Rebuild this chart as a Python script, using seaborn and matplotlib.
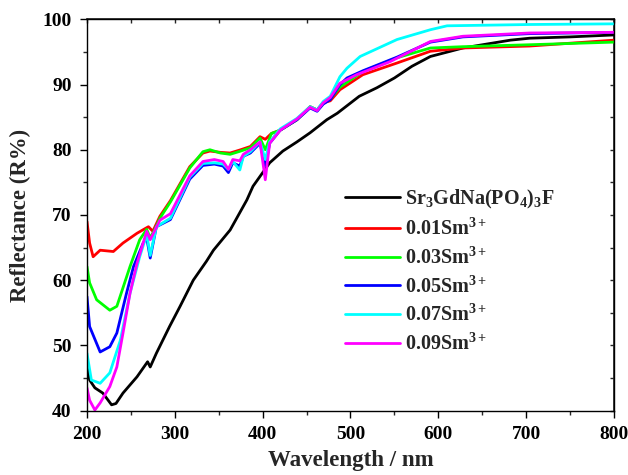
import matplotlib
matplotlib.use("Agg")
import matplotlib.pyplot as plt
import seaborn as sns
import pandas as pd
from matplotlib.ticker import MultipleLocator

# ---------------- data ----------------
wl_host = [200, 203, 209, 218, 228, 233, 241, 257, 269, 272, 279, 294, 306, 321, 336, 344, 363, 382, 389,
           408, 423, 439, 454, 473, 485, 510, 530, 550, 570, 591, 628, 682, 704, 750, 800]
r_host = [47.8, 44.7, 43.5, 42.7, 40.9, 41.1, 42.7, 45.2, 47.5, 46.7, 48.8, 52.9, 56.0, 60.0, 62.9, 64.6, 67.7,
          72.3, 74.4, 78.0, 79.8, 81.2, 82.6, 84.6, 85.6, 88.2, 89.5, 91.0, 92.8, 94.3, 95.6, 96.8, 97.1, 97.3, 97.6]

wl_01 = [200, 203, 207, 215, 230, 241, 257, 266, 270, 275, 283, 295, 317, 332, 340, 352, 363, 375, 386, 397,
         403, 410, 420, 439, 454, 462, 469, 477, 488, 514, 553, 591, 628, 704, 800]
r_01 = [69.0, 65.7, 63.6, 64.6, 64.4, 65.7, 67.2, 67.9, 68.2, 67.5, 69.8, 72.2, 77.4, 79.5, 79.8, 79.6, 79.5,
        80.0, 80.5, 82.0, 81.6, 82.5, 83.0, 84.6, 86.6, 86.1, 87.2, 87.5, 89.2, 91.5, 93.3, 95.1, 95.6, 95.9, 96.8]

wl_03 = [200, 203, 211, 226, 234, 249, 260, 268, 272, 278, 283, 295, 317, 332, 340, 352, 363, 375, 386, 397,
         403, 410, 420, 439, 454, 462, 469, 477, 488, 514, 553, 591, 628, 704, 800]
r_03 = [62.1, 59.6, 57.0, 55.4, 56.0, 62.1, 66.2, 67.8, 66.5, 68.0, 69.5, 72.0, 77.2, 79.7, 80.0, 79.5, 79.3,
        79.8, 80.3, 81.8, 80.0, 82.5, 83.0, 84.6, 86.6, 86.1, 87.2, 87.8, 89.6, 92.0, 94.1, 95.6, 95.8, 96.1, 96.5]

wl_05 = [200, 203, 215, 226, 234, 245, 253, 264, 268, 272, 279, 295, 317, 332, 345, 355, 361, 366, 374, 378,
         386, 397, 403, 408, 420, 439, 454, 462, 469, 477, 488, 496, 514, 553, 591, 628, 704, 800]
r_05 = [57.5, 52.9, 49.0, 49.8, 51.9, 58.0, 62.1, 65.7, 66.5, 63.4, 68.2, 69.3, 75.5, 77.6, 77.8, 77.5, 76.5,
        78.0, 77.5, 79.0, 79.5, 81.0, 77.5, 81.0, 83.0, 84.6, 86.4, 85.9, 87.0, 87.7, 90.0, 91.0, 92.1, 94.2,
        96.5, 97.3, 97.8, 98.0]

wl_07 = [200, 205, 215, 226, 238, 249, 260, 268, 272, 279, 295, 317, 332, 345, 355, 361, 366, 374, 378, 386,
         397, 403, 408, 420, 439, 454, 462, 469, 477, 488, 496, 511, 553, 591, 610, 704, 800]
r_07 = [48.8, 44.7, 44.2, 45.8, 50.8, 58.0, 63.6, 67.0, 63.8, 68.2, 69.5, 75.8, 77.9, 78.0, 77.8, 77.0, 78.2,
        76.9, 79.0, 79.7, 81.2, 78.5, 81.2, 83.2, 84.8, 86.6, 86.1, 87.4, 88.2, 91.2, 92.5, 94.3, 96.9, 98.4,
        99.0, 99.2, 99.3]

wl_09 = [200, 203, 209, 215, 226, 234, 241, 249, 257, 268, 272, 283, 295, 317, 332, 345, 355, 361, 366, 374,
         378, 386, 397, 403, 408, 420, 439, 454, 462, 469, 477, 488, 507, 545, 591, 628, 704, 800]
r_09 = [43.5, 41.6, 40.1, 41.2, 43.7, 46.7, 51.9, 58.0, 62.6, 67.5, 66.2, 69.2, 70.2, 76.0, 78.2, 78.5, 78.2,
        77.0, 78.5, 78.3, 79.3, 80.0, 81.2, 75.4, 81.0, 83.0, 84.7, 86.5, 86.0, 87.2, 88.0, 90.2, 91.5, 93.5,
        96.6, 97.4, 97.9, 98.0]

labels = [r"Sr$_{3}$GdNa(PO$_{4}$)$_{3}$F", r"0.01Sm$^{3+}$", r"0.03Sm$^{3+}$",
          r"0.05Sm$^{3+}$", r"0.07Sm$^{3+}$", r"0.09Sm$^{3+}$"]
colors = ["#000000", "#ff0000", "#00ff00", "#0000ff", "#00ffff", "#ff00ff"]
series = [(wl_host, r_host), (wl_01, r_01), (wl_03, r_03), (wl_05, r_05), (wl_07, r_07), (wl_09, r_09)]

x_ticks = [200, 300, 400, 500, 600, 700, 800]
y_ticks = [40, 50, 60, 70, 80, 90, 100]

# ---------------- style ----------------
sns.set_theme(style="ticks")
plt.rcParams["font.family"] = ["Liberation Serif", "DejaVu Serif"]
plt.rcParams["font.weight"] = "bold"
plt.rcParams["mathtext.fontset"] = "custom"
plt.rcParams["mathtext.rm"] = "Liberation Serif:bold"
plt.rcParams["mathtext.bf"] = "Liberation Serif:bold"
plt.rcParams["mathtext.it"] = "Liberation Serif:bold"
plt.rcParams["mathtext.default"] = "bf"

fig = plt.figure(figsize=(6.28, 4.75), dpi=100)
ax = fig.add_axes([0.1385, 0.1354, 0.8392, 0.824])

frames = []
for (wl, r), lab in zip(series, labels):
    frames.append(pd.DataFrame({"Wavelength": wl, "Reflectance": r, "Sample": lab}))
df = pd.concat(frames, ignore_index=True)

sns.lineplot(data=df, x="Wavelength", y="Reflectance", hue="Sample", hue_order=labels,
             palette=colors, linewidth=2.0, sort=False, estimator=None, ax=ax)

ax.set_xlim(200, 800)
ax.set_ylim(40, 100)
ax.set_xticks(x_ticks)
ax.set_yticks(y_ticks)
ax.xaxis.set_minor_locator(MultipleLocator(50))
ax.yaxis.set_minor_locator(MultipleLocator(5))
ax.tick_params(which="major", direction="out", length=5, width=1.0, labelsize=14, pad=6, colors="black")
ax.tick_params(which="minor", direction="out", length=3, width=1.0)
for lab in ax.get_xticklabels() + ax.get_yticklabels():
    lab.set_fontweight("bold")
for sp in ax.spines.values():
    sp.set_linewidth(1.0)
    sp.set_color("black")

# inward ticks on top and right
secx = ax.secondary_xaxis("top")
secx.set_xticks(x_ticks)
secx.xaxis.set_minor_locator(MultipleLocator(50))
secx.tick_params(which="both", direction="in", length=3, width=1.0, labeltop=False)
secy = ax.secondary_yaxis("right")
secy.set_yticks(y_ticks)
secy.yaxis.set_minor_locator(MultipleLocator(5))
secy.tick_params(which="both", direction="in", length=3, width=1.0, labelright=False)

ax.set_xlabel("Wavelength / nm", fontsize=16.5, fontweight="bold", labelpad=5)
ax.set_ylabel("Reflectance (R%)", fontsize=16.5, fontweight="bold", labelpad=8)

leg = ax.legend(loc="upper left", bbox_to_anchor=(0.475, 0.59), frameon=False,
                prop={"family": "Liberation Serif", "weight": "bold", "size": 14.5},
                handlelength=2.7, handletextpad=0.25, labelspacing=0.38, borderaxespad=0)
for line in leg.get_lines():
    line.set_linewidth(2.0)

fig.savefig("out.png", dpi=100)
